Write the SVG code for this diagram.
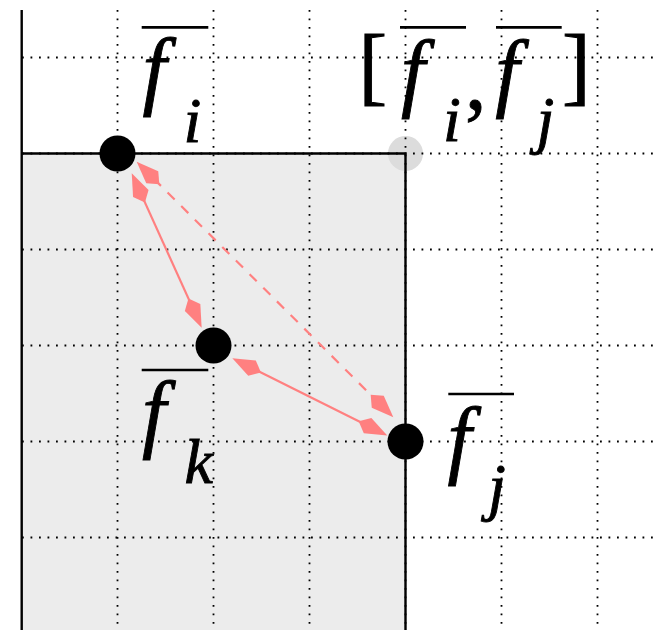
<svg xmlns="http://www.w3.org/2000/svg" width="654" height="630" viewBox="0 0 654 630">
  <style>
    .grid { stroke: #000; stroke-width: 1.8; stroke-dasharray: 1.8 6.7; fill: none; }
    .edge { stroke: #ff8080; stroke-width: 2.2; fill: none; }
    .dashed { stroke-dasharray: 10 9.3; }
    .node { fill: #000; }
    .it { font-family: "Liberation Serif", "Times New Roman", serif; font-style: italic; fill: #000; stroke: #000; stroke-width: 0.9; }
    .rm { font-family: "Liberation Serif", "Times New Roman", serif; fill: #000; stroke: #000; stroke-width: 0.9; }
    .big { font-size: 86px; }
    .sub { font-size: 64px; }
    .bar { stroke: #000; stroke-width: 2.7; }
  </style>
  <defs>
    <marker id="kite" markerUnits="userSpaceOnUse" orient="auto-start-reverse" refX="0" refY="0" markerWidth="40" markerHeight="20" style="overflow:visible">
      <path d="M5,0 L-17,-8.5 L-27,0 L-17,8.5 Z" fill="#ff8080"/>
    </marker>
  </defs>
  <rect width="654" height="630" fill="#fff"/>
  <g id="region">
    <rect x="21.7" y="153.5" width="383.8" height="480" fill="#ececec"/>
    <circle cx="405.5" cy="153.5" r="17.5" fill="#dcdcdc"/>
  </g>
  <g id="grid">
    <path class="grid" d="M22,57.5H654M22,153.5H654M22,249.5H654M22,345.5H654M22,441.5H654M22,537.5H654"/>
    <path class="grid" d="M117.5,10V630M213.5,10V630M309.5,10V630M405.5,10V630M501.5,10V630M597.5,10V630"/>
  </g>
  <g id="axes" stroke="#000" stroke-width="2.4" fill="none">
    <path d="M21.7,10V630"/>
    <path d="M21.7,153.5H405.5V630"/>
  </g>
  <g id="connectors">
    <line class="edge" x1="133.8" y1="177.9" x2="199.6" y2="323.1" marker-start="url(#kite)" marker-end="url(#kite)"/>
    <line class="edge dashed" x1="140.2" y1="165.2" x2="389.8" y2="413.8" marker-start="url(#kite)" marker-end="url(#kite)"/>
    <line class="edge" x1="236.8" y1="360.5" x2="382.8" y2="433.3" marker-start="url(#kite)" marker-end="url(#kite)"/>
  </g>
  <g id="node-fi">
    <circle class="node" cx="117.5" cy="153.5" r="18"/>
    <line class="bar" x1="141.7" y1="27.3" x2="208.3" y2="27.3"/>
    <text class="it big" x="142.6" y="98.3">f</text>
    <text class="it sub" x="183.6" y="142">i</text>
  </g>
  <g id="node-fk">
    <circle class="node" cx="213.5" cy="345.5" r="18"/>
    <line class="bar" x1="141.7" y1="370" x2="208.3" y2="370"/>
    <text class="it big" x="142" y="441">f</text>
    <text class="it sub" x="184.5" y="483">k</text>
  </g>
  <g id="node-fj">
    <circle class="node" cx="405.5" cy="441.5" r="18"/>
    <line class="bar" x1="448.3" y1="394" x2="514" y2="394"/>
    <text class="it big" x="447.6" y="466.6">f</text>
    <text class="it sub" x="488" y="508">j</text>
  </g>
  <g id="label-interval">
    <text class="rm big" x="358.4" y="94">[</text>
    <line class="bar" x1="400" y1="27.3" x2="466" y2="27.3"/>
    <text class="it big" x="401" y="100">f</text>
    <text class="it sub" x="443" y="141">i</text>
    <text class="rm big" x="465" y="109">,</text>
    <line class="bar" x1="496" y1="27.3" x2="561.7" y2="27.3"/>
    <text class="it big" x="495.3" y="100">f</text>
    <text class="it sub" x="536.5" y="141">j</text>
    <text class="rm big" x="562" y="94">]</text>
  </g>
</svg>
